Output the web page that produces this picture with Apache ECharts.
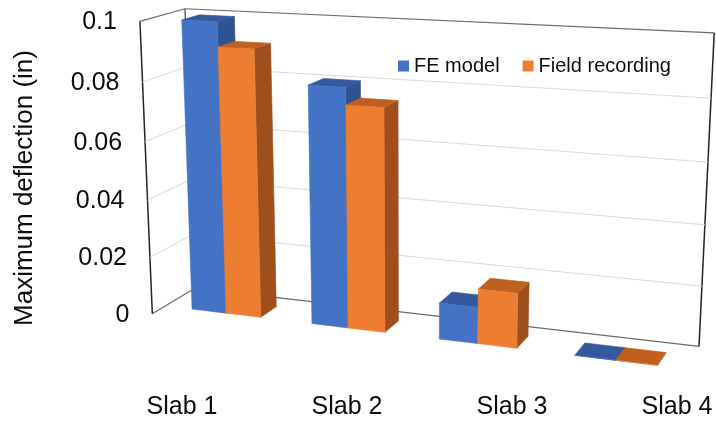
<!DOCTYPE html>
<html>
<head>
<meta charset="utf-8">
<script src="https://cdn.jsdelivr.net/npm/echarts@6/dist/echarts.min.js"></script>
<style>
  html, body { margin: 0; padding: 0; background: #ffffff; }
  #chart { width: 716px; height: 421px; }
</style>
</head>
<body>
<div id="chart"></div>
<script>
// ---- data ----
const categories = ['Slab 1', 'Slab 2', 'Slab 3', 'Slab 4'];
const feModel = [0.0996, 0.0806, 0.0122, 0];
const fieldRecording = [0.0913, 0.0749, 0.0183, 0];
const yTicks = [0, 0.02, 0.04, 0.06, 0.08, 0.1];
const yTickLabels = ['0', '0.02', '0.04', '0.06', '0.08', '0.1'];
const seriesNames = ['FE model', 'Field recording'];

// ---- 3D box layout ----
// World space: X spans the category slots [0, n], Y is value / axis max [0, 1],
// Z is depth (0 = front, 1 = back wall). Screen positions of the box corners
// define the perspective camera.
const NX = categories.length;
const cameraAnchors = [
  [[0, 1, 1], [187, 8]],
  [[NX, 1, 1], [714, 33]],
  [[0, 0, 1], [193, 290]],
  [[NX, 0, 1], [699, 345]],
  [[0, 1, 0], [138, 22]],
  [[0, 0, 0], [154, 312]],
  [[NX, 0, 0], [679, 380]]
];
const BAR_W = 0.29;                 // one bar, in slot units
const SERIES_OFFSET = [-0.27, 0.02]; // left edge of each series relative to slot centre
const Z_FRONT = 0.3, Z_BACK = 0.7;
const FONT = 'Liberation Sans, Arial, sans-serif';

// Least-squares 3x4 projective camera (DLT) from the corner positions.
function solveCamera(pts) {
  const S = 300, U0 = 400, V0 = 200;
  const A = [], b = [];
  pts.forEach(([w, s]) => {
    const [X, Y, Z] = w;
    const u = (s[0] - U0) / S, v = (s[1] - V0) / S;
    A.push([X, Y, Z, 1, 0, 0, 0, 0, -u * X, -u * Y, -u * Z]); b.push(u);
    A.push([0, 0, 0, 0, X, Y, Z, 1, -v * X, -v * Y, -v * Z]); b.push(v);
  });
  const n = 11;
  const M = [];
  for (let i = 0; i < n; i++) M.push(new Array(n + 1).fill(0));
  for (let r = 0; r < A.length; r++) {
    for (let i = 0; i < n; i++) {
      for (let j = 0; j < n; j++) M[i][j] += A[r][i] * A[r][j];
      M[i][n] += A[r][i] * b[r];
    }
  }
  for (let c = 0; c < n; c++) {
    let piv = c;
    for (let r = c + 1; r < n; r++) if (Math.abs(M[r][c]) > Math.abs(M[piv][c])) piv = r;
    [M[c], M[piv]] = [M[piv], M[c]];
    for (let r = 0; r < n; r++) {
      if (r === c) continue;
      const f = M[r][c] / M[c][c];
      for (let k = c; k <= n; k++) M[r][k] -= f * M[c][k];
    }
  }
  const p = M.map((row, i) => row[n] / row[i]);
  return function (X, Y, Z) {
    const w = p[8] * X + p[9] * Y + p[10] * Z + 1;
    return [
      (p[0] * X + p[1] * Y + p[2] * Z + p[3]) / w * S + U0,
      (p[4] * X + p[5] * Y + p[6] * Z + p[7]) / w * S + V0
    ];
  };
}
const project = solveCamera(cameraAnchors);

// Grid pixel from the category / value axes -> world X (slot centre) and Y.
function toWorld(params, api, cat, val) {
  const cs = params.coordSys;
  const pt = api.coord([cat, val]);
  return {
    X: (pt[0] - cs.x) / cs.width * (NX - 1) + 0.5,
    Y: (cs.y + cs.height - pt[1]) / cs.height
  };
}

function line(a, b, color, width) {
  return {
    type: 'line',
    shape: { x1: a[0], y1: a[1], x2: b[0], y2: b[1] },
    style: { stroke: color, lineWidth: width }
  };
}

// Walls, gridlines and value tick labels (one item per tick).
function renderWalls(params, api) {
  const idx = params.dataIndex;
  const Y = toWorld(params, api, 0, api.value(1)).Y;
  const isEdge = idx === 0 || idx === yTicks.length - 1;
  const gridColor = isEdge ? '#6b6b6b' : '#d9d9d9';
  const children = [
    line(project(0, Y, 1), project(NX, Y, 1), gridColor, isEdge ? 1.2 : 1),
    line(project(0, Y, 0), project(0, Y, 1), gridColor, isEdge ? 1.2 : 1)
  ];
  if (idx === 0) {
    children.push(line(project(0, 0, 0), project(0, 1, 0), '#262626', 1.5));
    children.push(line(project(0, 0, 1), project(0, 1, 1), '#404040', 1.2));
    children.push(line(project(NX, 0, 1), project(NX, 1, 1), '#262626', 1.5));
  }
  const lp = project(0, Y, 0);
  children.push({
    type: 'text',
    x: lp[0] - 23,
    y: lp[1] + 1,
    style: {
      text: yTickLabels[idx],
      fill: '#0d0d0d',
      font: '25px ' + FONT,
      align: 'right',
      verticalAlign: 'middle'
    }
  });
  return { type: 'group', children: children };
}

function barRenderer(offset, colors) {
  return function (params, api) {
    const w = toWorld(params, api, api.value(0), api.value(1));
    const x0 = w.X + offset, x1 = x0 + BAR_W, Y = w.Y;
    const z0 = Z_FRONT, z1 = Z_BACK;
    const faces = [
      { pts: [project(x1, 0, z0), project(x1, 0, z1), project(x1, Y, z1), project(x1, Y, z0)], fill: colors.side },
      { pts: [project(x0, Y, z0), project(x1, Y, z0), project(x1, Y, z1), project(x0, Y, z1)], fill: colors.top },
      { pts: [project(x0, 0, z0), project(x1, 0, z0), project(x1, Y, z0), project(x0, Y, z0)], fill: colors.front }
    ];
    return {
      type: 'group',
      children: faces.map(f => ({
        type: 'polygon',
        shape: { points: f.pts },
        style: { fill: f.fill, stroke: f.fill, lineWidth: 0.6 }
      }))
    };
  };
}

const blue = { front: '#4472c4', top: '#34599c', side: '#2f5290' };
const orange = { front: '#ed7d31', top: '#c0601f', side: '#9e4f1c' };

const chart = echarts.init(document.getElementById('chart'), null, { renderer: 'canvas' });
chart.setOption({
  animation: false,
  backgroundColor: '#ffffff',
  grid: { left: 182, right: 39, top: 22, bottom: 108, containLabel: false },
  legend: {
    data: seriesNames,
    left: 393,
    top: 51,
    icon: 'rect',
    itemWidth: 11,
    itemHeight: 11,
    itemGap: 23,
    textStyle: { fontSize: 20, fontFamily: FONT, color: '#0d0d0d' }
  },
  graphic: [{
    type: 'text',
    x: 25,
    y: 188,
    rotation: Math.PI / 2,
    style: {
      text: 'Maximum deflection (in)',
      fill: '#0d0d0d',
      font: '26px ' + FONT,
      align: 'center',
      verticalAlign: 'middle'
    }
  }],
  xAxis: {
    type: 'category',
    data: categories,
    boundaryGap: false,
    axisLine: { show: false },
    axisTick: { show: false },
    splitLine: { show: false },
    axisLabel: { interval: 0, margin: 82, fontSize: 25, fontFamily: FONT, color: '#0d0d0d' }
  },
  yAxis: {
    type: 'value',
    min: 0,
    max: 0.1,
    interval: 0.02,
    axisLine: { show: false },
    axisTick: { show: false },
    splitLine: { show: false },
    axisLabel: { show: false }
  },
  series: [
    {
      name: 'walls',
      type: 'custom',
      silent: true,
      renderItem: renderWalls,
      encode: { x: 0, y: 1 },
      data: yTicks.map(t => [0, t])
    },
    {
      name: seriesNames[0],
      type: 'custom',
      silent: true,
      itemStyle: { color: blue.front },
      renderItem: barRenderer(SERIES_OFFSET[0], blue),
      encode: { x: 0, y: 1 },
      data: feModel.map((v, i) => [i, v])
    },
    {
      name: seriesNames[1],
      type: 'custom',
      silent: true,
      itemStyle: { color: orange.front },
      renderItem: barRenderer(SERIES_OFFSET[1], orange),
      encode: { x: 0, y: 1 },
      data: fieldRecording.map((v, i) => [i, v])
    }
  ]
});
</script>
</body>
</html>
